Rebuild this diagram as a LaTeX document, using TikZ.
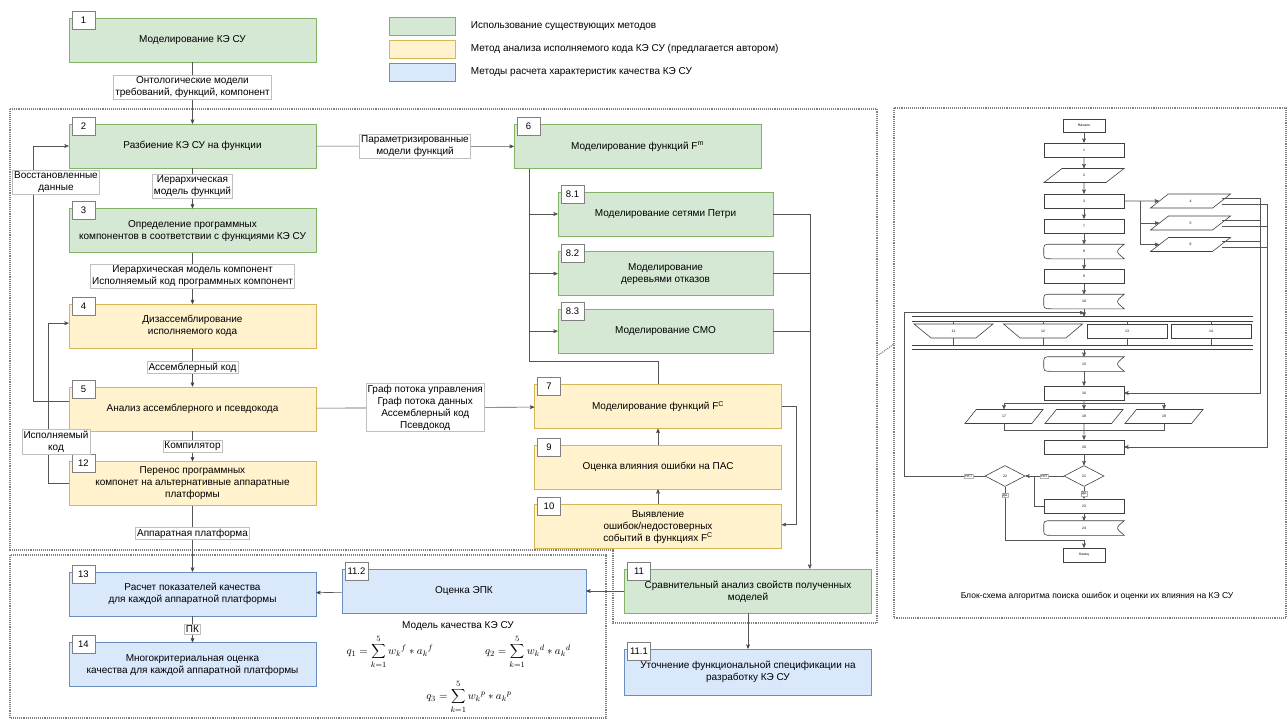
\documentclass[tikz,border=0pt]{standalone}
\usepackage{fontspec}
\setmainfont{Liberation Sans}
\usetikzlibrary{arrows,positioning,shapes.geometric}

\definecolor{oldfill}{HTML}{D5E8D4}
\definecolor{oldedge}{HTML}{82B366}
\definecolor{newfill}{HTML}{FFF2CC}
\definecolor{newedge}{HTML}{D6B656}
\definecolor{qfill}{HTML}{DAE8FC}
\definecolor{qedge}{HTML}{6C8EBF}
\definecolor{wiregray}{HTML}{555555}

\begin{document}
\begin{tikzpicture}[x=1pt,y=-1pt,>=stealth',line width=0.6pt,font=\fontsize{10}{12}\selectfont]
  \tikzstyle{block}=[rectangle,draw,align=center,minimum width=247pt,minimum height=44pt,inner sep=2pt]
  \tikzstyle{oldm}=[block,fill=oldfill,draw=oldedge]
  \tikzstyle{newm}=[block,fill=newfill,draw=newedge]
  \tikzstyle{qm}=[block,fill=qfill,draw=qedge]
  \tikzstyle{tag}=[rectangle,draw=gray,fill=white,minimum width=23pt,minimum height=18pt,inner sep=2pt,anchor=north west,font=\fontsize{9.5}{11}\selectfont]
  \tikzstyle{lbl}=[rectangle,draw=gray!50,fill=white,inner sep=1.5pt,align=center]
  \tikzstyle{link}=[draw=wiregray]
  \tikzstyle{zone}=[draw=gray,densely dotted,line width=1.1pt]
  \tikzstyle{fbox}=[rectangle,draw=black!75,minimum width=80pt,minimum height=14pt,inner sep=0pt,font=\fontsize{3.5}{4}\selectfont]
  \tikzstyle{fpar}=[fbox,trapezium,trapezium left angle=72,trapezium right angle=108,trapezium stretches=true]
  \tikzstyle{ftrap}=[fbox,trapezium,trapezium left angle=60,trapezium right angle=60,shape border rotate=180,trapezium stretches=true,minimum width=79pt]
  \tikzstyle{fdia}=[fbox,diamond,minimum width=40pt,minimum height=21pt]
  \tikzstyle{fl}=[fill=white,draw=gray!60,inner sep=0.6pt,font=\fontsize{3.5}{4}\selectfont]
  \tikzstyle{frm}=[inner sep=0pt,font=\fontsize{11}{13}\selectfont]

  \useasboundingbox (0,0) rectangle (1288,720);
  \fill[white] (0,0) rectangle (1288,720);

  % dotted zones
  \draw[zone] (10,109) -- (877,109) -- (877,623) -- (613,623) -- (613,550) -- (10,550) -- cycle;
  \draw[zone] (10,555) rectangle (606,718);
  \draw[zone] (894,108) rectangle (1286,618);
  \draw[zone] (877,356) -- (894,344);

  % legend
  \node[oldm,minimum width=66pt,minimum height=18pt] (k1) at (422,26) {};
  \node[newm,minimum width=66pt,minimum height=18pt] (k2) at (422,49) {};
  \node[qm,minimum width=66pt,minimum height=18pt] (k3) at (422,72) {};
  \node (t1) [right=12pt of k1] {Использование существующих методов};
  \node (t2) [right=12pt of k2] {Метод анализа исполняемого кода КЭ СУ (предлагается автором)};
  \node (t3) [right=12pt of k3] {Методы расчета характеристик качества КЭ СУ};

  % left column
  \node[oldm] (b1) at (192.5,40) {Моделирование КЭ СУ};
  \node[oldm] (b2) at (192.5,146) {Разбиение КЭ СУ на функции};
  \node[oldm] (b3) [below=40pt of b2] {Определение программных\\компонентов в соответствии с функциями КЭ СУ};
  \node[newm] (b4) [below=51pt of b3] {Дизассемблирование\\исполняемого кода};
  \node[newm] (b5) [below=38pt of b4] {Анализ ассемблерного и псевдокода};
  \node[newm] (b12) [below=30pt of b5] {Перенос программных\\компонет на альтернативные аппаратные\\платформы};
  \node[qm] (b13) [below=66pt of b12] {Расчет показателей качества\\для каждой аппаратной платформы};
  \node[qm] (b14) [below=26pt of b13] {Многокритериальная оценка\\качества для каждой аппаратной платформы};

  % right column
  \node[oldm] (b6) at (637.5,146.5) {Моделирование функций F\textsuperscript{m}};
  \node[oldm,minimum width=215pt] (b81) at (665.5,214) {Моделирование сетями Петри};
  \node[oldm,minimum width=215pt] (b82) [below=15pt of b81] {Моделирование\\деревьями отказов};
  \node[oldm,minimum width=215pt] (b83) [below=13pt of b82] {Моделирование СМО};
  \node[newm] (b7) at (658,406.5) {Моделирование функций F\textsuperscript{C}};
  \node[newm] (b9) [below=16pt of b7] {Оценка влияния ошибки на ПАС};
  \node[newm] (b10) [below=15pt of b9] {Выявление\\ошибок/недостоверных\\событий в функциях F\textsuperscript{C}};
  \node[oldm,text depth=-3pt] (b11) at (748,591) {Сравнительный анализ свойств полученных\\моделей};
  \node[qm,minimum width=244pt] (b112) at (464,591) {Оценка ЭПК};
  \node[qm,minimum height=46pt] (b111) at (748,672) {Уточнение функциональной спецификации на\\разработку КЭ СУ};

  \foreach \b/\t in {b1/1,b2/2,b3/3,b4/4,b5/5,b12/12,b13/13,b14/14,b6/6,b81/8.1,b82/8.2,b83/8.3,b7/7,b9/9,b10/10,b11/11,b112/11.2,b111/11.1}
    \node[tag] at ([xshift=3pt,yshift=7pt]\b.north west) {\t};

  % connectors
  \path[->,link]
  (b1) edge node[lbl,pos=0.4] {Онтологические модели\\требований, функций, компонент} (b2)
  (b2) edge node[lbl,pos=0.45] {Иерархическая\\модель функций} (b3)
  (b3) edge node[lbl,pos=0.45] {Иерархическая модель компонент\\Исполняемый код программных компонент} (b4)
  (b4) edge node[lbl] {Ассемблерный код} (b5)
  (b5) edge node[lbl] {Компилятор} (b12)
  (b12) edge node[lbl,pos=0.42] {Аппаратная платформа} (b13)
  (b13) edge node[lbl] {ПК} (b14)
  (b2) edge node[lbl] {Параметризированные\\модели функций} (b6)
  (b5) edge node[lbl] {Граф потока управления\\Граф потока данных\\Ассемблерный код\\Псевдокод} (b7)
  (b10) edge (b9)
  (b9) edge (b7)
  (b11) edge (b112)
  (b112) edge (b13)
  (b11) edge (b111);

  \draw[->,link] ([yshift=8pt]b5.west) -- ++(-35,0) |- (b2.west);
  \draw[->,link] (b12.west) -- ++(-20,0) |- ([yshift=3pt]b4.west);
  \node[lbl] (r1) at (56,182) {Восстановленные\\данные};
  \node[lbl] (r2) at (56,442) {Исполняемый\\код};

  \coordinate (t6) at ([xshift=16pt]b6.south west);
  \draw[->,link] (t6) |- (b81.west);
  \draw[->,link] (t6) |- (b82.west);
  \draw[->,link] (t6) |- (b83.west);
  \draw[link] (t6) |- ([yshift=23pt]b7.north) -- (b7.north);
  \coordinate (e11) at ([xshift=-62pt]b11.north east);
  \draw[->,link] (b81.east) -| (e11);
  \draw[link] (b82.east) -- (b82.east -| e11);
  \draw[link] (b83.east) -- (b83.east -| e11);
  \draw[->,link] (b7.east) -- ++(14,0) |- ([yshift=2pt]b10.east);

  % quality model
  \node[inner sep=1pt] (qlab) at (458,626) {Модель качества КЭ СУ};
  \node[frm] (q1) at (390,652) {$q_1=\displaystyle\sum_{k=1}^{5}{w_k}^{f}\ast{a_k}^{f}$};
  \node[frm] (q2) at (528,652) {$q_2=\displaystyle\sum_{k=1}^{5}{w_k}^{d}\ast{a_k}^{d}$};
  \node[frm] (q3) at (469,697) {$q_3=\displaystyle\sum_{k=1}^{5}{w_k}^{p}\ast{a_k}^{p}$};

  % flowchart of the search algorithm
  \node[fbox,minimum width=42pt,minimum height=13pt] (fs) at (1084,125.5) {Начало};
  \node[fbox] (f1) at (1084,150) {1};
  \node[fpar] (f2) at (1084,175.5) {2};
  \node[fbox] (f3) at (1084,201) {3};
  \node[fbox] (f7) at (1084,226) {7};
  \node[fbox,draw=none] (f8) at (1084,251.5) {8};
  \node[fbox] (f9) at (1084,276.5) {9};
  \node[fbox,draw=none] (f10) at (1084,301.5) {10};
  \node[inner sep=0pt,minimum width=341pt,minimum height=4pt] (bar1) at (1082.5,319) {};
  \node[ftrap] (f11) at (953.5,331) {11};
  \node[ftrap] (f12) at (1043,331) {12};
  \node[fbox] (f13) at (1127,331) {13};
  \node[fbox] (f14) at (1211,331) {14};
  \node[inner sep=0pt,minimum width=341pt,minimum height=3pt] (bar2) at (1082.5,347.5) {};
  \node[fbox,draw=none] (f15) at (1084,364) {15};
  \node[fbox] (f16) at (1084,393) {16};
  \node[fpar,minimum width=78pt] (f17) at (1004,416.5) {17};
  \node[fpar,minimum width=78pt] (f18) at (1084,416.5) {18};
  \node[fpar,minimum width=78pt] (f19) at (1164,416.5) {19};
  \node[fbox] (f20) at (1084,447) {20};
  \node[fdia] (d21) at (1084,476) {21};
  \node[fdia] (d22) at (1005,476) {22};
  \node[fbox] (f23) at (1084,506) {23};
  \node[fbox,draw=none] (f24) at (1084,528) {24};
  \node[fbox,minimum width=42pt] (fe) at (1084,555) {Конец};
  \node[fpar] (f4) at (1190.5,201) {4};
  \node[fpar] (f5) at (1190.5,223) {5};
  \node[fpar] (f6) at (1190.5,244.5) {6};

  \foreach \n in {f8,f10,f15,f24}
    \draw[black!75] ([xshift=8pt]\n.north west) -- (\n.north east) .. controls ([xshift=-9pt]\n.east) .. (\n.south east)
      -- ([xshift=8pt]\n.south west) .. controls (\n.south west) .. (\n.west) .. controls (\n.north west) .. cycle;
  \draw[black!75] (bar1.north west) -- (bar1.north east) (bar1.south west) -- (bar1.south east);
  \draw[black!75] (bar2.north west) -- (bar2.north east) (bar2.south west) -- (bar2.south east);

  \foreach \a/\b in {fs/f1,f1/f2,f2/f3,f3/f7,f7/f8,f8/f9,f9/f10,f15/f16,f20/d21,f23/f24,f16/f18,f18/f20}
    \draw[->,link] (\a) -- (\b);
  \draw[->,link] (f10) -- (f10.south |- bar1.north);
  \draw[->,link] (bar2.south -| f15.north) -- (f15);
  \foreach \n in {f11,f12,f13,f14}
    \draw[link] (\n.north |- bar1.south) -- (\n.north) (\n.south) -- (\n.south |- bar2.north);

  \coordinate (j3) at ([xshift=16pt]f3.east);
  \draw[->,link] (f3.east) -- (f4.west);
  \draw[->,link] (j3) |- (f5.west);
  \draw[->,link] (j3) |- (f6.west);
  \coordinate (busA) at (1260,200);
  \coordinate (busB) at (1267,200);
  \foreach \n in {f4,f5,f6} {
    \path ([yshift=3pt]\n.east) coordinate (u\n) ([yshift=-3pt]\n.east) coordinate (l\n);
    \draw[link] (u\n) -- (u\n -| busA) (l\n) -- (l\n -| busB);
  }
  \draw[->,link] (uf4 -| busA) |- (f16.east);
  \draw[->,link] (lf4 -| busB) |- (f20.east);

  \coordinate (k16) at ([yshift=-3pt]f16.south);
  \draw[->,link] (k16) -| (f17.north);
  \draw[->,link] (k16) -| (f19.north);
  \coordinate (k20) at ([yshift=9pt]f20.north);
  \draw[link] (f17.south) |- (k20) -| (f19.south);

  \draw[->,link] (d21) -- node[fl,pos=0.6] {ДА} (f23);
  \draw[->,link] (d21.west) -- node[fl] {НЕТ} (d22.east);
  \coordinate (j22) at ([xshift=9pt]d22.east);
  \draw[link] (f23.west) -| (j22);
  \path (bar1.north -| f10.south) ++(0,-4) coordinate (jl);
  \draw[->,link] (d22.west) -- node[fl,pos=0.2] {НЕТ} ++(-80,0) |- (jl);
  \draw[->,link] (d22.south) |- node[fl,pos=0.08] {ДА} ([yshift=7pt]fe.north) -- (fe.north);

  \node[font=\fontsize{8.5}{10}\selectfont] (cap) at (1097,596) {Блок-схема алгоритма поиска ошибок и оценки их влияния на КЭ СУ};
\end{tikzpicture}
\end{document}
